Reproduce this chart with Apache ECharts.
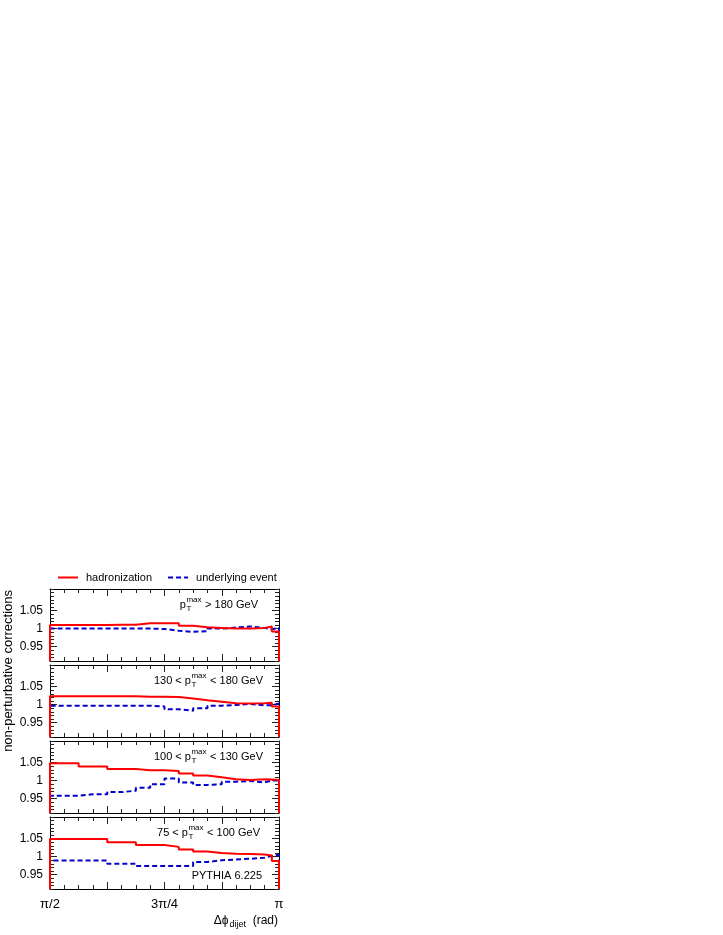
<!DOCTYPE html>
<html>
<head>
<meta charset="utf-8">
<script src="https://cdn.jsdelivr.net/npm/echarts@6/dist/echarts.min.js"></script>
<style>
html,body{margin:0;padding:0;background:#fff;}
#main{width:723px;height:935px;}
</style>
</head>
<body>
<div id="main"></div>
<script>
// x in units of pi/32 starting at pi/2
var binEdges = [0,1,2,3,4,5,6,7,8,9,10,11,12,13,14,15,15.5,16];
var xTickVals = [0, 8, 16];
var xTickLabels = ['π/2', '3π/4', 'π'];
var yTickVals = [0.95, 1, 1.05];
var yTickLabels = ['0.95', '1', '1.05'];
var yMin = 0.91, yMax = 1.11;

// hadronization
var hadr1 = [1.010,1.010,1.010,1.010,1.011,1.011,1.015,1.015,1.015,1.008,1.004,1.002,1.000,1.000,1.002,1.006,0.992];
var hadr2 = [1.023,1.023,1.023,1.023,1.023,1.023,1.022,1.022,1.021,1.017,1.012,1.008,1.004,1.003,1.004,1.005,0.995];
var hadr3 = [1.048,1.048,1.039,1.039,1.032,1.032,1.029,1.029,1.027,1.020,1.014,1.009,1.004,1.002,1.004,1.003,1.002];
var hadr4 = [1.049,1.049,1.049,1.049,1.040,1.040,1.032,1.032,1.027,1.020,1.014,1.010,1.008,1.007,1.006,1.003,0.988];
// underlying event
var ue1 = [1.000,1.000,1.000,1.000,1.000,1.000,1.000,0.999,0.994,0.991,0.993,1.000,1.003,1.006,1.002,0.998,1.002];
var ue2 = [0.997,0.997,0.997,0.997,0.997,0.997,0.997,0.995,0.987,0.983,0.990,0.997,0.999,1.002,0.998,0.998,1.003];
var ue3 = [0.958,0.958,0.962,0.962,0.968,0.972,0.980,0.990,1.006,0.995,0.988,0.990,0.997,0.999,0.995,1.000,1.000];
var ue4 = [0.989,0.989,0.989,0.989,0.980,0.980,0.974,0.974,0.974,0.974,0.985,0.990,0.992,0.994,0.997,1.002,1.005];

var panelPre = ['', '130 < ', '100 < ', '75 < '];
var panelPost = [' > 180 GeV', ' < 180 GeV', ' < 130 GeV', ' < 100 GeV'];

var hadrList = [hadr1, hadr2, hadr3, hadr4];
var ueList = [ue1, ue2, ue3, ue4];

var panelTops = [589, 665, 741, 817];
var panelH = 72;
var labelRight = [257, 262, 262, 259];
var FONT = '"Liberation Sans", Arial, sans-serif';

// histogram outline, closed down to the bottom at both ends
function histPoints(vals){
	var pts = [[binEdges[0], yMin]];
	for (var i = 0; i < vals.length; i++) {
		pts.push([binEdges[i], vals[i]]);
		pts.push([binEdges[i+1], vals[i]]);
	}
	pts.push([binEdges[binEdges.length-1], yMin]);
	return pts;
}

var xMajor = [0, 4, 8, 12, 16];
var xMinor = [];
for (var k = 0; k <= 16; k++) xMinor.push(k);
var yMinor = [];
for (var k = 91; k <= 111; k++) yMinor.push(k / 100);

function nearestLabel(v, vals, labels){
	for (var i = 0; i < vals.length; i++) {
		if (Math.abs(vals[i] - v) < 1e-6) return labels[i];
	}
	return '';
}

var tickStyle = {color:'#222', width:1};
var lineStyle = {color:'#000', width:1};

var option = {
	animation: false,
	backgroundColor: '#fff',
	legend: {
		data: ['hadronization', 'underlying event'],
		left: 57, top: 572, padding: 0,
		itemWidth: 20, itemHeight: 12, itemGap: 15,
		itemStyle: {opacity: 0},
		textStyle: {fontSize: 11, fontFamily: FONT, color: '#000', padding: [0,0,0,3]}
	},
	grid: [], xAxis: [], yAxis: [], series: [], graphic: []
};

for (var i = 0; i < 4; i++) {
	option.grid.push({left: 50, top: panelTops[i], width: 229, height: panelH});
	var xi = option.xAxis.length;
	var yi = option.yAxis.length;
	['bottom', 'top'].forEach(function(pos){
		option.xAxis.push({
			gridIndex: i, type: 'value', min: 0, max: 16, position: pos,
			axisLine: {show: true, onZero: false, lineStyle: lineStyle},
			axisTick: {show: true, inside: true, length: 7, customValues: xMajor, lineStyle: tickStyle},
			axisLabel: {show: (pos == 'bottom' && i == 3), customValues: xTickVals, margin: 9,
				fontSize: 13, fontFamily: FONT, color: '#000',
				formatter: function(v){ return nearestLabel(v, xTickVals, xTickLabels); }},
			splitLine: {show: false}
		});
		option.xAxis.push({
			gridIndex: i, type: 'value', min: 0, max: 16, position: pos,
			axisLine: {show: false, onZero: false},
			axisTick: {show: true, inside: true, length: 4, customValues: xMinor, lineStyle: tickStyle},
			axisLabel: {show: false}, splitLine: {show: false}
		});
	});
	['left', 'right'].forEach(function(pos){
		option.yAxis.push({
			gridIndex: i, type: 'value', min: yMin, max: yMax, position: pos,
			axisLine: {show: true, onZero: false, lineStyle: lineStyle},
			axisTick: {show: true, inside: true, length: 7, customValues: yTickVals, lineStyle: tickStyle},
			axisLabel: {show: pos == 'left', customValues: yTickVals, margin: 7,
				fontSize: 12, fontFamily: FONT, color: '#000',
				formatter: function(v){ return nearestLabel(v, yTickVals, yTickLabels); }},
			splitLine: {show: false}
		});
		option.yAxis.push({
			gridIndex: i, type: 'value', min: yMin, max: yMax, position: pos,
			axisLine: {show: false, onZero: false},
			axisTick: {show: true, inside: true, length: 4, customValues: yMinor, lineStyle: tickStyle},
			axisLabel: {show: false}, splitLine: {show: false}
		});
	});
	option.series.push({
		name: 'underlying event', type: 'line', xAxisIndex: xi, yAxisIndex: yi,
		data: histPoints(ueList[i]), symbol: 'none', clip: true,
		lineStyle: {color: '#0000cc', width: 2, type: [5, 3]},
		itemStyle: {color: '#0000cc'}
	});
	option.series.push({
		name: 'hadronization', type: 'line', xAxisIndex: xi, yAxisIndex: yi,
		data: histPoints(hadrList[i]), symbol: 'none', clip: true,
		lineStyle: {color: '#ff0000', width: 2},
		itemStyle: {color: '#ff0000'}
	});
}

// text measuring for the p_T^max labels
var mctx = document.createElement('canvas').getContext('2d');
function textW(txt, size){
	mctx.font = size + 'px ' + FONT;
	return mctx.measureText(txt).width;
}
function txt(s, x, y, size, align){
	return {type: 'text', x: x, y: y, silent: true,
		style: {text: s, fontSize: size, fontFamily: FONT, fill: '#000', align: align || 'left', verticalAlign: 'middle'}};
}
for (var i = 0; i < 4; i++) {
	var cy = panelTops[i] + 16;
	var head = panelPre[i] + 'p';
	var wHead = textW(head, 11);
	var wSup = Math.max(textW('max', 8), textW('T', 8));
	var wPost = textW(panelPost[i], 11);
	var x0 = labelRight[i] - wHead - wSup - wPost;
	option.graphic.push(txt(head, x0, cy, 11));
	option.graphic.push(txt('max', x0 + wHead + 0.5, cy - 5, 8));
	option.graphic.push(txt('T', x0 + wHead + 0.5, cy + 4, 8));
	option.graphic.push(txt(panelPost[i], x0 + wHead + wSup + 1, cy, 11));
}
option.graphic.push(txt('PYTHIA 6.225', 262, 876, 11, 'right'));

// axis titles
option.graphic.push({type: 'text', x: 8, y: 590, rotation: Math.PI / 2, silent: true,
	style: {text: 'non-perturbative corrections', fontSize: 13, fontFamily: FONT, fill: '#000', align: 'right', verticalAlign: 'middle'}});
var wRad = textW('  (rad)', 12);
var wDij = textW('dijet', 9);
var wDphi = textW('Δϕ', 12);
option.graphic.push(txt('  (rad)', 278, 921, 12, 'right'));
option.graphic.push(txt('dijet', 278 - wRad - wDij, 925, 9));
option.graphic.push(txt('Δϕ', 278 - wRad - wDij - wDphi - 1, 921, 12));

var myChart = echarts.init(document.getElementById('main'), null, {renderer: 'canvas'});
myChart.setOption(option);
</script>
</body>
</html>
